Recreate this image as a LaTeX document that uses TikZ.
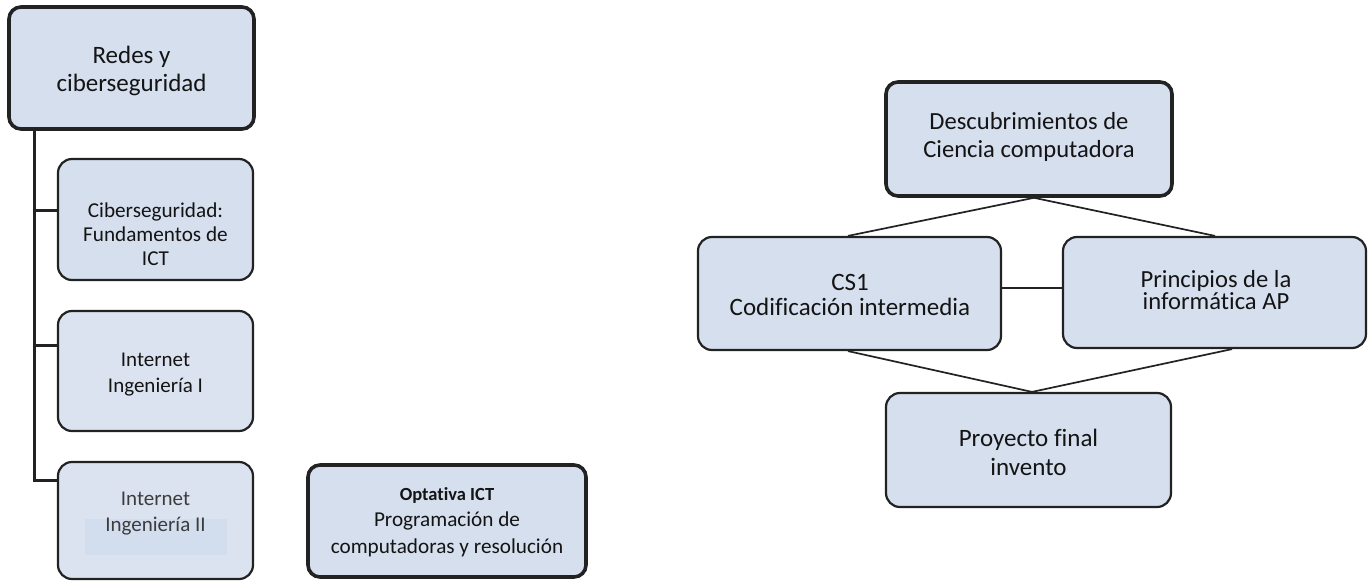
\documentclass[tikz,border=0pt]{standalone}
\usepackage{fontspec}
\setmainfont[Ligatures=NoCommon]{Carlito}
\begin{document}
\begin{tikzpicture}[x=1pt,y=-1pt,
  thickbox/.style={draw=boxline, line width=3.6pt, fill=boxblue, rounded corners=12pt, inner sep=0pt, rectangle},
  thinbox/.style={draw=boxline, line width=2.2pt, fill=boxblue, rounded corners=14pt, inner sep=0pt, rectangle},
  lightbox/.style={draw=boxline, line width=2.2pt, fill=boxlight, rounded corners=14pt, inner sep=0pt, rectangle},
  lbl/.style={align=center, inner sep=0pt, text=textcol},
  conn/.style={draw=boxline, line width=1.7pt},
  trunk/.style={draw=boxline, line width=3pt}]
\definecolor{boxblue}{HTML}{D5DFEE}
\definecolor{boxlight}{HTML}{DCE3F0}
\definecolor{hilite}{HTML}{D2DDEE}
\definecolor{boxline}{HTML}{222222}
\definecolor{textcol}{HTML}{141414}
\definecolor{graytext}{HTML}{3C3C3C}
\useasboundingbox[fill=white] (0,0) rectangle (1369,581);

% ---------- left tree ----------
\coordinate (t0) at (34,127);
\coordinate (t1) at (34,210);
\coordinate (t2) at (34,345);
\coordinate (t3) at (34,480);

\node[thinbox, minimum width=195pt, minimum height=121pt] (cib) at (155.5,219.5) {};
\node[lightbox, minimum width=195pt, minimum height=120pt] (ing1) at (155.5,371) {};
\node[lightbox, minimum width=195pt, minimum height=117pt] (ing2) at (155.5,520.5) {};
\node[thickbox, minimum width=278pt, minimum height=112pt] (opt) at (447,521) {};
\node[thickbox, minimum width=245pt, minimum height=122pt] (redes) at (131.5,68) {};

\draw[trunk] (t0) -- (t3) -- (t3 -| ing2.west);
\draw[trunk] (t1) -- (t1 -| cib.west);
\draw[trunk] (t2) -- (t2 -| ing1.west);

\fill[hilite] (85,519) rectangle (227,555);

\node[lbl, font=\fontsize{25}{28}\selectfont] (redesT) at (131.5,71) {Redes y\\ciberseguridad};
\node[lbl, font=\fontsize{21.2}{24}\selectfont] (cibT) at (155.5,234) {Ciberseguridad:\\Fundamentos de\\ICT};
\node[lbl, font=\fontsize{21}{26}\selectfont] (ing1T) at (155.5,375) {Internet\\Ingeniería I};
\node[lbl, text=graytext, font=\fontsize{21}{26}\selectfont] (ing2T) at (155.5,514) {Internet\\Ingeniería II};
\node[lbl, font=\fontsize{21.2}{26.5}\selectfont] (optT) at (447,522) {{\fontsize{18.5}{26.5}\selectfont\bfseries Optativa ICT}\\Programación de\\computadoras y resolución};

% ---------- right diagram ----------
\node[thickbox, minimum width=286pt, minimum height=114pt] (desc) at (1029,139) {};
\node[thinbox, minimum width=303pt, minimum height=113pt] (cs1) at (849.5,293.5) {};
\node[thinbox, minimum width=303pt, minimum height=111pt] (prin) at (1214.5,292.5) {};
\node[thinbox, minimum width=285pt, minimum height=114pt] (proy) at (1028.5,450) {};

\coordinate (dtop) at ([xshift=5pt]desc.south);
\coordinate (ptop) at ([xshift=3.5pt]proy.north);
\coordinate (cs1top) at ([xshift=-1.5pt]cs1.north);
\coordinate (printop) at ([xshift=0.5pt]prin.north);
\coordinate (cs1bot) at ([xshift=-1.5pt]cs1.south);
\coordinate (prinbot) at ([xshift=17.5pt]prin.south);
\coordinate (mid) at (1001,288);

\draw[conn] (cs1top) -- (dtop) -- (printop);
\draw[conn] (cs1bot) -- (ptop) -- (prinbot);
\draw[conn] (mid -| cs1.east) -- (mid -| prin.west);

\node[lbl, font=\fontsize{24.6}{28}\selectfont] (descT) at (1029,137) {Descubrimientos de\\Ciencia computadora};
\node[lbl, font=\fontsize{25}{25}\selectfont] (cs1T) at (850,295) {CS1\\Codificación intermedia};
\node[lbl, font=\fontsize{24.6}{20}\selectfont] (prinT) at (1216,290) {Principios de la\\informática AP};
\node[lbl, font=\fontsize{25}{29}\selectfont] (proyT) at (1028.5,452.5) {Proyecto final\\invento};
\end{tikzpicture}
\end{document}
